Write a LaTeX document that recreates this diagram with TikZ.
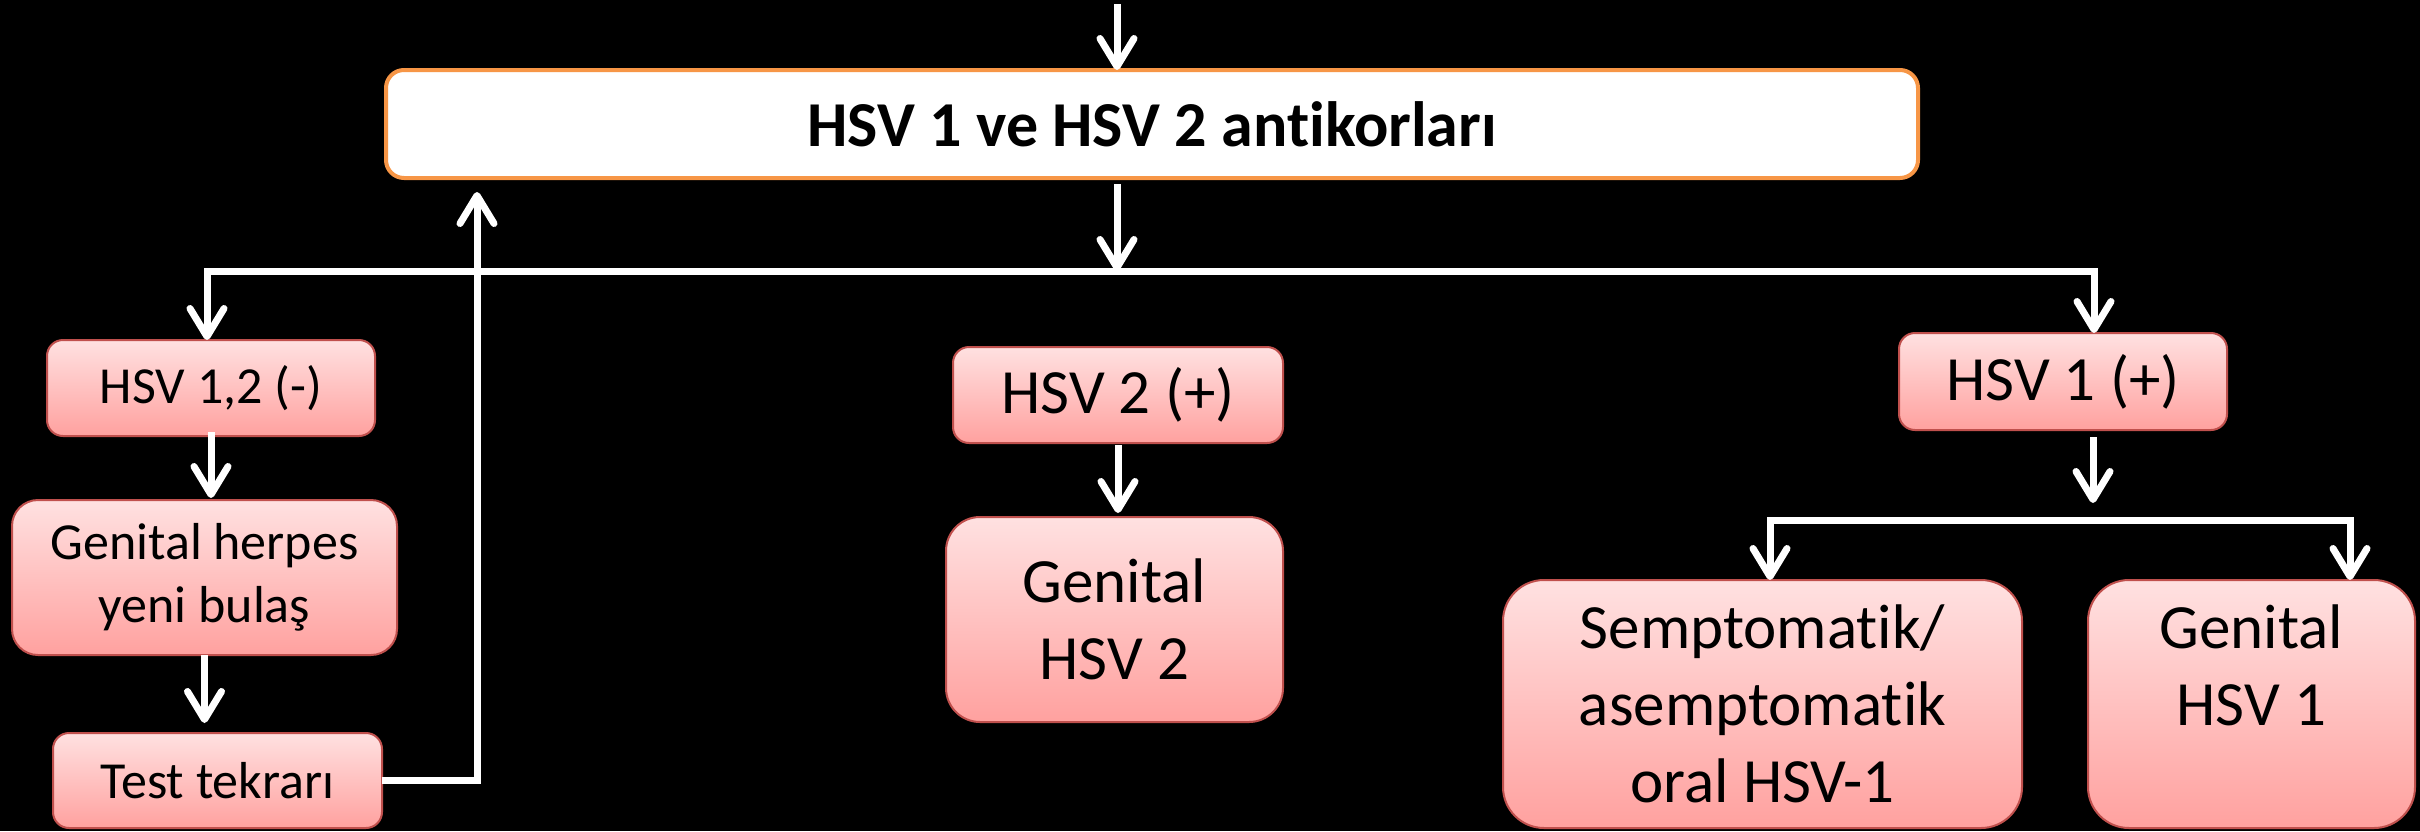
\documentclass[tikz,border=0pt]{standalone}
\usepackage{fontspec}
\setmainfont{Carlito}[Ligatures={NoCommon}]
\usetikzlibrary{arrows.meta}
\definecolor{pinkT}{RGB}{255,225,225}
\definecolor{pinkB}{RGB}{255,161,159}
\definecolor{boxedge}{RGB}{192,80,77}
\definecolor{orangeedge}{RGB}{247,150,70}
\begin{document}
\begin{tikzpicture}[x=0.5pt,y=-0.5pt,
  pinkbox/.style={draw=boxedge, line width=1pt, top color=pinkT, bottom color=pinkB,
    inner sep=0pt, outer sep=0pt, align=center, text=black},
  fsmall/.style={font=\fontsize{26}{31.5}\selectfont},
  fbig/.style={font=\fontsize{31.5}{38.5}\selectfont},
  smallbox/.style={pinkbox, rounded corners=8pt, minimum width=164pt, minimum height=48pt},
  topbox/.style={draw=orangeedge, line width=2pt, fill=white, rounded corners=9pt,
    inner sep=0pt, outer sep=0pt, minimum width=766pt, minimum height=54pt,
    font=\bfseries\fontsize{32}{39}\selectfont},
  wline/.style={draw=white, line width=3.5pt},
  arr/.style={wline, -{Straight Barb[length=14pt,width=17pt,round]}},
]
\fill[black] (0,0) rectangle (2420,831);
\useasboundingbox (0,0) rectangle (2420,831);

\node[topbox] (top) at (1152,124) {HSV 1 ve HSV 2 antikorları};

\node[smallbox, fsmall] (n12) at (211,388) {HSV 1,2 (-)};
\node[pinkbox, fsmall, rounded corners=13pt, minimum width=192.5pt, minimum height=77.5pt]
  (gh) at (204.5,577.5) {Genital herpes\\yeni bulaş};
\node[smallbox, fsmall, minimum width=164.5pt, minimum height=47.5pt] (tt) at (217.5,780.5) {Test tekrarı};

\node[smallbox, fbig, minimum width=165pt] (h2) at (1118,395) {HSV 2 (+)};
\node[pinkbox, fbig, rounded corners=17pt, minimum width=168.5pt, minimum height=102.5pt]
  (g2) at (1114.5,619.5) {Genital\\HSV 2};

\node[smallbox, fbig, minimum height=48.5pt] (h1) at (2063,381.5) {HSV 1 (+)};
\node[pinkbox, fbig, rounded corners=20.5pt, minimum width=259.5pt, minimum height=124pt]
  (sem) at (1762.5,704) {Semptomatik/\\asemptomatik\\oral HSV-1};
\node[pinkbox, fbig, rounded corners=20.5pt, minimum width=163.5pt, minimum height=124pt]
  (g1) at (2251.5,704) {Genital\\HSV 1\\\mbox{}};

\coordinate (in) at (1117,4);
\coordinate (bus) at (1117,271);
\coordinate (busL) at (207,271);
\coordinate (busR) at (2094,271);
\coordinate (ret) at (477,780);
\coordinate (b2) at (2093,520);
\coordinate (b2L) at (1770,520);
\coordinate (b2R) at (2350,520);

\draw[arr] (in) -- (in |- top.north);
\draw[arr, shorten <=3pt] (top.south -| bus) -- (bus);
\draw[arr] (bus) -| (n12.north -| busL);
\draw[arr] (bus) -| (h1.north -| busR);
\draw[arr, shorten <=-2pt, shorten >=1pt] (n12.south) -- (n12.south |- gh.north);
\draw[arr, shorten >=5pt] (gh.south) -- (gh.south |- tt.north);
\draw[arr, shorten >=7pt] (tt.east) -| (top.south -| ret);
\draw[arr, shorten <=1pt, shorten >=2pt] (h2.south) -- (h2.south |- g2.north);
\draw[arr, shorten <=3.5pt, shorten >=8.5pt] (h1.south -| b2) -- (b2);
\draw[wline] (b2L) -- (b2R);
\draw[arr] (b2) -| (sem.north -| b2L);
\draw[arr] (b2) -| (g1.north -| b2R);
\end{tikzpicture}
\end{document}
